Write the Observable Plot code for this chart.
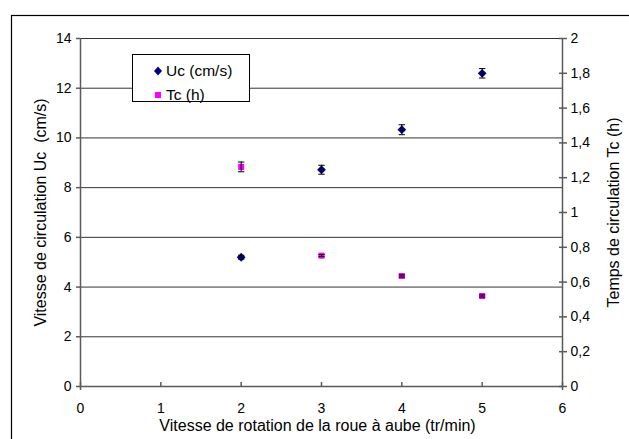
<!DOCTYPE html>
<html>
<head>
<meta charset="utf-8">
<script src="https://cdn.jsdelivr.net/npm/d3@7"></script>
<script src="https://cdn.jsdelivr.net/npm/@observablehq/plot@0.6"></script>
<style>
  html, body { margin: 0; padding: 0; background: #fff; overflow: hidden; }
  #wrap { position: relative; width: 629px; height: 439px; font-family: "Liberation Sans", Arial, sans-serif; }
  #chart svg { display: block; }
  #legend { position: absolute; left: 132px; top: 54px; width: 116px; height: 46px; border: 1px solid #000; background: #fff; font-size: 15.5px; color: #000; }
  .item { position: absolute; left: 0; height: 20px; line-height: 20px; white-space: nowrap; }
  .item svg { position: absolute; left: 20px; top: 4px; }
  .item span { position: absolute; left: 33px; top: 0; }
</style>
</head>
<body>
<div id="wrap">
  <div id="chart"></div>
  <div id="legend"></div>
</div>
<script>
// ---- data ----
const xValues = [2, 3, 4, 5];
const ucValues = [5.2, 8.72, 10.33, 12.6];      // Vitesse de circulation Uc (cm/s)
const ucErrors = [0.08, 0.18, 0.2, 0.19];
const tcValues = [1.262, 0.752, 0.635, 0.52];   // Temps de circulation Tc (h)
const tcErrors = [0.028, 0.006, 0.006, 0.006];

const xTicks = [0, 1, 2, 3, 4, 5, 6];
const leftTicks = [0, 2, 4, 6, 8, 10, 12, 14];
const rightTicks = [0, 0.2, 0.4, 0.6, 0.8, 1, 1.2, 1.4, 1.6, 1.8, 2];
const rightTickLabels = ["0", "0,2", "0,4", "0,6", "0,8", "1", "1,2", "1,4", "1,6", "1,8", "2"];

const seriesNames = ["Uc (cm/s)", "Tc (h)"];
const seriesColors = ["#000080", "#FF00FF"];

const xLabel = "Vitesse de rotation de la roue à aube (tr/min)";
const yLeftLabel = "Vitesse de circulation Uc \u00a0(cm/s)";
const yRightLabel = "Temps de circulation Tc (h)";

// right axis (Tc) is mapped onto the left (Uc) scale: 2 h <-> 14 cm/s
const ratio = leftTicks[leftTicks.length - 1] / rightTicks[rightTicks.length - 1];

const ucData = xValues.map((x, i) => ({x, y: ucValues[i], lo: ucValues[i] - ucErrors[i], hi: ucValues[i] + ucErrors[i]}));
const tcData = xValues.map((x, i) => ({x, y: tcValues[i] * ratio, lo: (tcValues[i] - tcErrors[i]) * ratio, hi: (tcValues[i] + tcErrors[i]) * ratio}));

// custom symbols
const diamond = {draw(ctx, size) { const h = Math.sqrt(size / 2); ctx.moveTo(0, -h); ctx.lineTo(h, 0); ctx.lineTo(0, h); ctx.lineTo(-h, 0); ctx.closePath(); }};
const cap = {draw(ctx, size) { const w = Math.sqrt(size) / 2; ctx.moveTo(-w, 0); ctx.lineTo(w, 0); }};

const font = "Liberation Sans, Arial, sans-serif";
const axisColor = "#5a5a5a";
const gridColor = "#333";

const chart = Plot.plot({
  width: 629,
  height: 439,
  marginLeft: 80,
  marginRight: 67,
  marginTop: 38,
  marginBottom: 53,
  style: {fontFamily: font, fontSize: "14px", background: "#fff", color: "#000"},
  x: {domain: [xTicks[0], xTicks[xTicks.length - 1]]},
  y: {domain: [leftTicks[0], leftTicks[leftTicks.length - 1]]},
  marks: [
    // outer chart border (left and top edges visible)
    Plot.frame({insetLeft: -69, insetTop: -23, insetRight: -120, insetBottom: -120, stroke: "#000", strokeWidth: 1.2}),
    // horizontal grid lines
    Plot.ruleY(leftTicks.slice(1), {stroke: gridColor, strokeWidth: 1}),
    // axis lines
    Plot.ruleX([xTicks[0], xTicks[xTicks.length - 1]], {stroke: axisColor, strokeWidth: 1.5, insetBottom: -4}),
    Plot.ruleY([leftTicks[0]], {stroke: axisColor, strokeWidth: 1.5}),
    // left axis
    Plot.axisY(leftTicks, {anchor: "left", tickSize: 4, tickPadding: 5, stroke: axisColor, strokeWidth: 1.5, fontSize: 14, label: null}),
    // right axis: crossing ticks
    Plot.axisY(rightTicks.map(v => v * ratio), {anchor: "right", tickSize: 8, dx: -4, stroke: axisColor, strokeWidth: 1.5, tickFormat: () => "", label: null}),
    Plot.axisY(rightTicks.map(v => v * ratio), {anchor: "right", tickSize: 0, tickPadding: 8, tickFormat: (d, i) => rightTickLabels[i], fontSize: 14, label: null}),
    // bottom axis: inward ticks + labels
    Plot.axisX(xTicks, {anchor: "bottom", tickSize: 4, dy: -4, stroke: axisColor, strokeWidth: 1.5, tickFormat: () => "", label: null}),
    Plot.axisX(xTicks, {anchor: "bottom", tickSize: 0, tickPadding: 17, fontSize: 14, label: null}),
    // axis titles
    Plot.text([xLabel], {text: d => d, frameAnchor: "bottom", dx: -4, dy: 39, textAnchor: "middle", lineAnchor: "middle", fontSize: 16, fill: "#000"}),
    Plot.text([yLeftLabel], {text: d => d, frameAnchor: "left", dx: -40, rotate: -90, textAnchor: "middle", lineAnchor: "middle", fontSize: 16, fill: "#000"}),
    Plot.text([yRightLabel], {text: d => d, frameAnchor: "right", dx: 51, rotate: -90, textAnchor: "middle", lineAnchor: "middle", fontSize: 16, fill: "#000"}),
    // series markers
    Plot.dot(ucData, {x: "x", y: "y", symbol: diamond, r: 3.5, fill: seriesColors[0], stroke: "none"}),
    Plot.dot(tcData, {x: "x", y: "y", symbol: d3.symbolSquare, r: 3.4, fill: seriesColors[1], stroke: "none"}),
    // error bars
    Plot.ruleX([...ucData, ...tcData], {x: "x", y1: "lo", y2: "hi", stroke: "#000", strokeWidth: 1}),
    Plot.dot([...ucData, ...tcData], {x: "x", y: "lo", symbol: cap, r: 3.6, stroke: "#000", strokeWidth: 1, fill: "none"}),
    Plot.dot([...ucData, ...tcData], {x: "x", y: "hi", symbol: cap, r: 3.6, stroke: "#000", strokeWidth: 1, fill: "none"})
  ]
});
document.getElementById("chart").appendChild(chart);

// legend
const legend = document.getElementById("legend");
const legendSymbols = [
  `<svg width="10" height="12"><path d="M5,1.5L9,6L5,10.5L1,6Z" fill="${seriesColors[0]}"/></svg>`,
  `<svg width="10" height="12"><rect x="2" y="3" width="6" height="6" fill="${seriesColors[1]}"/></svg>`
];
seriesNames.forEach((name, i) => {
  const item = document.createElement("div");
  item.className = "item";
  item.style.top = (6 + i * 24) + "px";
  item.innerHTML = legendSymbols[i] + `<span>${name}</span>`;
  legend.appendChild(item);
});
</script>
</body>
</html>
